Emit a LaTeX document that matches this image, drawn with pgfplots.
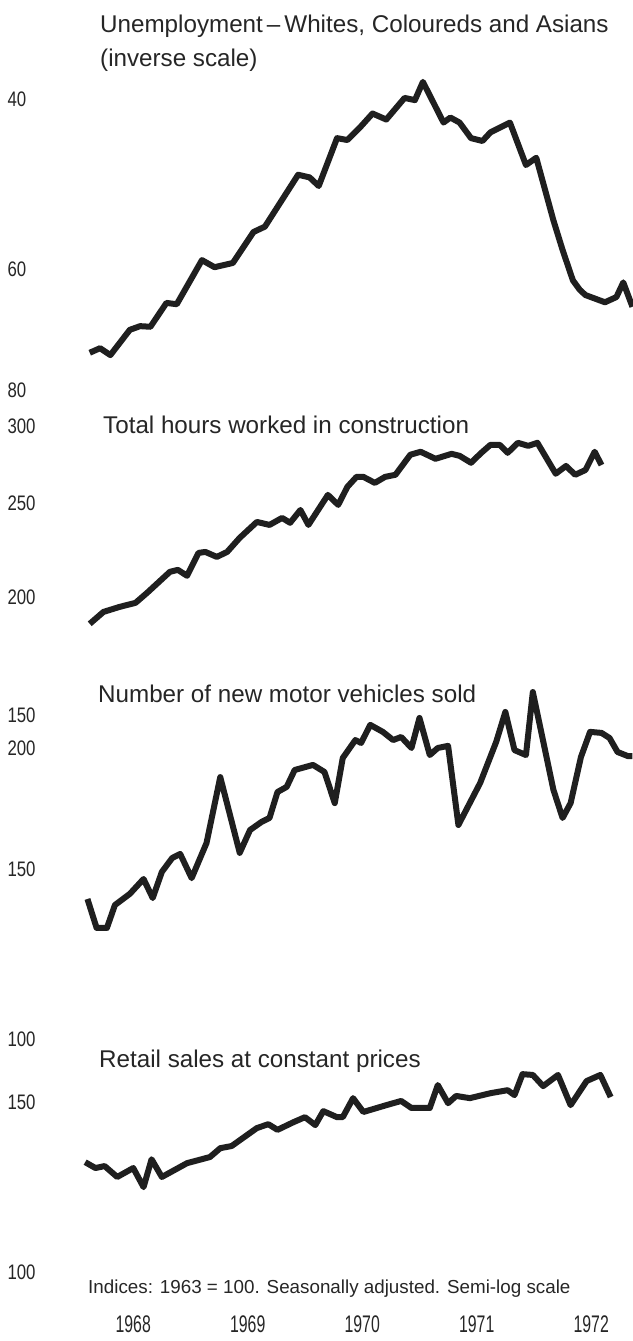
\documentclass[border=0pt]{standalone}
\usepackage{fontspec}
\setmainfont{Liberation Sans}
\newfontfamily\numfont{Liberation Sans}[FakeStretch=0.66]
\newfontfamily\tickfont{Liberation Sans}[FakeStretch=0.8]
\usepackage{pgfplots}
\usepackage{pgfplotstable}
\pgfplotsset{compat=1.18}

\pgfplotstableread{
x v
1968.12 73.2
1968.21 72.4
1968.30 73.6
1968.47 69.3
1968.56 68.7
1968.65 68.8
1968.79 65.0
1968.88 65.2
1969.10 58.7
1969.21 59.7
1969.37 59.1
1969.55 54.9
1969.65 54.2
1969.94 47.9
1970.04 48.2
1970.12 49.2
1970.28 43.9
1970.37 44.1
1970.48 42.8
1970.59 41.4
1970.71 42.0
1970.87 39.9
1970.96 40.1
1971.03 38.4
1971.21 42.3
1971.27 41.8
1971.35 42.3
1971.45 43.9
1971.55 44.2
1971.62 43.3
1971.79 42.3
1971.93 46.8
1972.02 46.0
1972.17 53.4
1972.25 57.3
1972.34 61.6
1972.40 63.0
1972.45 63.8
1972.62 64.9
1972.72 64.1
1972.78 61.9
1972.86 65.6
}\unemp

\pgfplotstableread{
x v
1968.12 187.6
1968.24 193.0
1968.38 195.3
1968.52 197.2
1968.62 201.9
1968.82 212.3
1968.89 213.3
1968.97 210.3
1969.07 222.1
1969.13 222.6
1969.23 220.0
1969.32 222.6
1969.43 230.2
1969.58 239.1
1969.69 237.4
1969.80 241.4
1969.87 238.6
1969.96 246.0
1970.03 237.4
1970.20 255.0
1970.29 249.0
1970.37 259.9
1970.45 266.2
1970.51 266.2
1970.61 262.4
1970.70 266.2
1970.79 267.5
1970.92 280.6
1971.01 282.6
1971.14 277.9
1971.28 281.2
1971.35 279.9
1971.45 275.3
1971.54 281.9
1971.62 287.3
1971.70 287.3
1971.77 281.9
1971.86 288.7
1971.95 286.6
1972.03 288.7
1972.19 268.2
1972.28 273.2
1972.36 267.5
1972.45 270.6
1972.53 282.6
1972.59 273.8
}\constr

\pgfplotstableread{
x v
1968.10 139.6
1968.18 130.3
1968.27 130.3
1968.34 137.6
1968.47 141.3
1968.59 146.4
1968.67 139.9
1968.75 148.9
1968.84 153.9
1968.91 155.4
1969.01 146.7
1969.14 159.5
1969.26 186.6
1969.43 155.8
1969.52 164.5
1969.62 167.7
1969.69 169.3
1969.76 180.1
1969.84 182.3
1969.91 189.8
1970.07 192.1
1970.17 188.9
1970.26 175.4
1970.33 195.3
1970.44 203.8
1970.49 202.4
1970.57 211.3
1970.68 207.8
1970.77 203.8
1970.84 205.3
1970.93 200.0
1971.00 214.8
1971.09 196.7
1971.16 200.0
1971.25 201.0
1971.34 166.5
1971.53 184.0
1971.67 202.9
1971.75 217.9
1971.83 199.0
1971.93 196.7
1971.99 228.5
1972.17 181.0
1972.25 169.3
1972.32 175.4
1972.41 195.7
1972.49 207.8
1972.59 207.3
1972.66 204.8
1972.73 198.1
1972.82 196.2
1972.86 196.2
}\vehic

\pgfplotstableread{
x v
1968.08 130.0
1968.17 128.2
1968.25 128.8
1968.36 125.5
1968.50 128.2
1968.59 122.5
1968.66 130.9
1968.75 125.5
1968.97 129.7
1969.17 131.6
1969.26 134.4
1969.36 135.1
1969.58 141.0
1969.68 142.3
1969.76 140.4
1969.90 143.0
1970.00 144.7
1970.09 142.0
1970.16 146.8
1970.28 144.7
1970.33 144.7
1970.42 151.4
1970.51 146.5
1970.71 148.9
1970.84 150.4
1970.93 147.9
1971.09 147.9
1971.16 156.2
1971.25 149.6
1971.32 152.2
1971.44 151.4
1971.62 153.2
1971.77 154.3
1971.83 152.5
1971.90 160.3
1971.99 160.0
1972.08 155.8
1972.21 160.0
1972.32 148.9
1972.46 157.7
1972.58 160.0
1972.67 151.8
}\retail

\pgfplotsset{every axis/.append style={
  scale only axis, width=557bp, xmin=1968, xmax=1972.865,
  axis lines*=left, axis line style={draw=none},
  major tick style={draw=none}, minor tick style={draw=none},
  yticklabel style={font=\tickfont\fontsize{21bp}{24bp}\selectfont, anchor=west, xshift=-72bp, text=black!85},
  anchor=center,
}}
\tikzset{curve/.style={black!88, line width=6bp, line join=round, no markers}}

\begin{document}
\begin{tikzpicture}
\useasboundingbox (0,0) rectangle (633bp,-1341bp);
\fill[white] (0,0) rectangle (633bp,-1341bp);

% Panel 1: unemployment (inverse scale)
\begin{axis}[ymode=log, at={(354.5bp,-235bp)}, height=330bp,
  y dir=reverse, ymin=37.33, ymax=81.91, xtick=\empty, minor ytick={},
  ytick={40,60,80}, yticklabels={40,60,80}]
\addplot[curve] table[x=x,y=v] {\unemp};
\end{axis}

% Panel 2: construction hours
\begin{axis}[ymode=log, at={(354.5bp,-525bp)}, height=230bp,
  ymin=180.5, ymax=312.2, xtick=\empty, minor ytick={},
  ytick={200,250,300}, yticklabels={200,250,300}]
\addplot[curve] table[x=x,y=v] {\constr};
\end{axis}

% Panel 3: new motor vehicles
\begin{axis}[ymode=log, at={(354.5bp,-867.5bp)}, height=355bp,
  ymin=98.6, ymax=229.6, xtick=\empty, minor ytick={},
  ytick={100,150,200,216.3}, yticklabels={100,150,200,150}]
\addplot[curve] table[x=x,y=v] {\vehic};
\end{axis}

% Panel 4: retail sales
\begin{axis}[ymode=log, at={(354.5bp,-1175bp)}, height=230bp,
  ymin=95.9, ymax=165.8, minor ytick={},
  ytick={100,150}, yticklabels={100,150},
  xtick={1968.5,1969.5,1970.5,1971.5,1972.5},
  xticklabels={1968,1969,1970,1971,1972},
  xticklabel style={font=\numfont\fontsize{24bp}{28bp}\selectfont, yshift=-22bp, text=black!85}]
\addplot[curve] table[x=x,y=v] {\retail};
\end{axis}

\begin{scope}[every node/.style={inner sep=0pt, text=black!85}]
\node[anchor=base west, font=\fontsize{24.2bp}{28bp}\selectfont] at (100bp,-32bp) {Unemployment\,–\,Whites, Coloureds and Asians};
\node[anchor=base west, font=\fontsize{24.2bp}{28bp}\selectfont] at (100bp,-66bp) {(inverse scale)};
\node[anchor=base west, font=\fontsize{24.2bp}{28bp}\selectfont] at (103bp,-433bp) {Total hours worked in construction};
\node[anchor=base west, font=\fontsize{24.2bp}{28bp}\selectfont] at (98bp,-702bp) {Number of new motor vehicles sold};
\node[anchor=base west, font=\fontsize{24.2bp}{28bp}\selectfont] at (99bp,-1067bp) {Retail sales at constant prices};
\node[anchor=base west, font=\fontsize{18.8bp}{22bp}\selectfont] at (88bp,-1293bp) {Indices: 1963 = 100. Seasonally adjusted. Semi-log scale};
\end{scope}
\end{tikzpicture}
\end{document}
